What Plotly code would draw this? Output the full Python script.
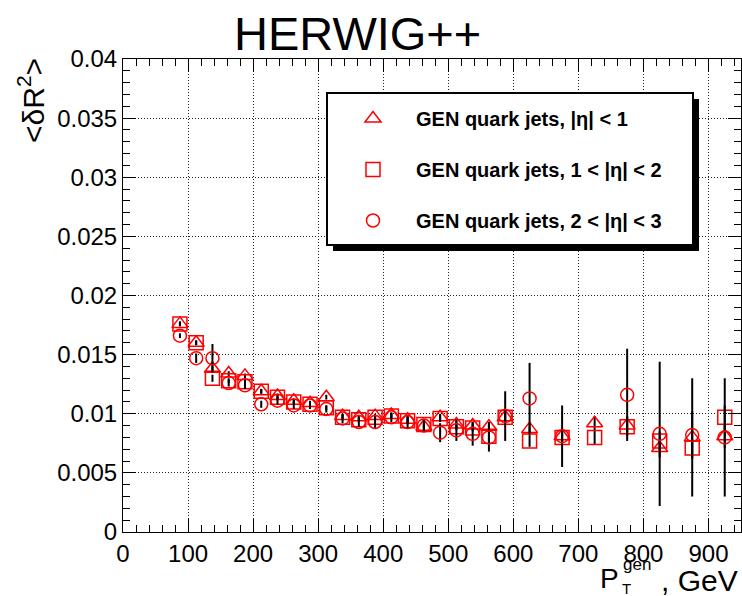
import plotly.graph_objects as go

# ---- data ----
pt = [87.5, 112.5, 137.5, 162.5, 187.5, 212.5, 237.5, 262.5, 287.5, 312.5,
      337.5, 362.5, 387.5, 412.5, 437.5, 462.5, 487.5, 512.5, 537.5, 562.5,
      587.5, 625, 675, 725, 775, 825, 875, 925]

eta01 = [0.0176, 0.0160, 0.0138, 0.0134, 0.0132, 0.0119, 0.0115, 0.0111, 0.0109, 0.0114,
         0.0098, 0.0097, 0.0098, 0.0099, 0.0095, 0.0089, 0.0097, 0.0091, 0.0090, 0.0089,
         0.0097, 0.0087, 0.0081, 0.0092, 0.0090, 0.0071, 0.0080, 0.0081]
eta01_err = [0.0002, 0.0002, 0.0003, 0.0002, 0.0002, 0.0002, 0.0002, 0.0002, 0.0002, 0.0002,
             0.0002, 0.0002, 0.0002, 0.0002, 0.0003, 0.0003, 0.0003, 0.0003, 0.0003, 0.0004,
             0.0004, 0.0005, 0.0005, 0.0006, 0.0008, 0.0008, 0.0050, 0.0010]

eta12 = [0.0176, 0.0160, 0.0130, 0.0128, 0.0127, 0.0119, 0.0114, 0.0110, 0.0108, 0.0105,
         0.0097, 0.0095, 0.0097, 0.0098, 0.0094, 0.0091, 0.0096, 0.0089, 0.0088, 0.0081,
         0.0097, 0.0077, 0.0080, 0.0080, 0.0089, 0.0077, 0.0071, 0.0097]
eta12_err = [0.0002, 0.0002, 0.0003, 0.0002, 0.0002, 0.0002, 0.0002, 0.0002, 0.0002, 0.0002,
             0.0002, 0.0002, 0.0002, 0.0002, 0.0003, 0.0003, 0.0003, 0.0003, 0.0003, 0.0004,
             0.0004, 0.0005, 0.0005, 0.0006, 0.0008, 0.0008, 0.0008, 0.0010]

eta23 = [0.0166, 0.0147, 0.0147, 0.0126, 0.0124, 0.0108, 0.0111, 0.0107, 0.0107, 0.0104,
         0.0096, 0.0093, 0.0093, 0.0097, 0.0093, 0.0090, 0.0084, 0.0086, 0.0083, 0.0080,
         0.0098, 0.0113, 0.0081, None, 0.0116, 0.0083, 0.0082, 0.0080]
eta23_err = [0.0002, 0.0004, 0.0012, 0.0003, 0.0003, 0.0003, 0.0003, 0.0003, 0.0003, 0.0003,
             0.0004, 0.0004, 0.0005, 0.0004, 0.0005, 0.0005, 0.0008, 0.0009, 0.0010, 0.0012,
             0.0021, 0.0030, 0.0026, None, 0.0039, 0.0061, 0.0020, 0.0050]

series_names = ["GEN quark jets, |η| &lt; 1",
                "GEN quark jets, 1 &lt; |η| &lt; 2",
                "GEN quark jets, 2 &lt; |η| &lt; 3"]

y_tickvals = [0, 0.005, 0.01, 0.015, 0.02, 0.025, 0.03, 0.035, 0.04]
y_ticktext = ["0", "0.005", "0.01", "0.015", "0.02", "0.025", "0.03", "0.035", "0.04"]

# ---- figure ----
W, H = 742, 596
L, R, T, B = 123, 1, 59, 64
pw, ph = W - L - R, H - T - B

def px(xp):
    return (xp - L) / pw

def py(yp):
    return (H - B - yp) / ph

FONT = "Liberation Sans, Arial"

fig = go.Figure()
styles = [("triangle-up-open", 14, eta01, eta01_err),
          ("square-open", 14, eta12, eta12_err),
          ("circle-open", 13, eta23, eta23_err)]
for i, (sym, sz, yv, ye) in enumerate(styles):
    fig.add_trace(go.Scatter(
        x=pt, y=yv, mode="markers", name=series_names[i],
        legendgroup=f"g{i}",
        marker=dict(symbol=sym, size=sz, color="red", line=dict(color="red", width=1.5)),
        error_y=dict(type="data", array=ye, visible=True, color="black", thickness=2, width=0),
    ))

axis_common = dict(
    showline=True, linecolor="black", linewidth=1, mirror="allticks",
    ticks="inside", ticklen=13, tickwidth=1, tickcolor="black",
    showgrid=True, gridcolor="#222", gridwidth=1, griddash="1px,2px",
    zeroline=False,
    tickfont=dict(family=FONT, size=24, color="black"),
)

fig.update_xaxes(range=[0, 950], dtick=100, tick0=0,
                 minor=dict(ticks="inside", ticklen=7, dtick=20, tickcolor="black", showgrid=False),
                 **axis_common)
fig.update_yaxes(range=[0, 0.04], tickmode="array", tickvals=y_tickvals, ticktext=y_ticktext,
                 minor=dict(ticks="inside", ticklen=7, dtick=0.001, tickcolor="black", showgrid=False),
                 **axis_common)

# legend box with shadow
fig.add_shape(type="rect", xref="paper", yref="paper",
              x0=px(333), x1=px(699), y0=py(251), y1=py(99),
              fillcolor="black", line=dict(width=0), layer="above")
fig.add_shape(type="rect", xref="paper", yref="paper",
              x0=px(327), x1=px(693), y0=py(245), y1=py(93),
              fillcolor="white", line=dict(color="black", width=2), layer="above")

def note(text, x, y, size, xanchor="center", yanchor="middle", **kw):
    return dict(text=text, xref="paper", yref="paper", x=px(x), y=py(y),
                xanchor=xanchor, yanchor=yanchor, showarrow=False,
                font=dict(family=FONT, size=size, color="black"), **kw)

fig.update_layout(
    width=W, height=H,
    margin=dict(l=L, r=R, t=T, b=B),
    paper_bgcolor="white", plot_bgcolor="white",
    showlegend=True,
    legend=dict(x=px(330), y=py(99), xanchor="left", yanchor="top",
                bgcolor="rgba(0,0,0,0)", borderwidth=0,
                font=dict(family=FONT, size=20, color="black", weight="bold"),
                tracegroupgap=22, itemwidth=76),
    annotations=[
        note("HERWIG++", 357, 33, 47),
        note("&lt;δR<sup>2</sup>&gt;", 31, 101, 30, textangle=-90),
        # x-axis title: P with stacked "gen" / "T", then ", GeV"
        note("P", 621, 578, 28, xanchor="right"),
        note("gen", 621, 564, 17, xanchor="left"),
        note("T", 626, 588, 15),
        note(", GeV", 740, 580, 30, xanchor="right"),
    ],
)

fig.write_html("out.html")
